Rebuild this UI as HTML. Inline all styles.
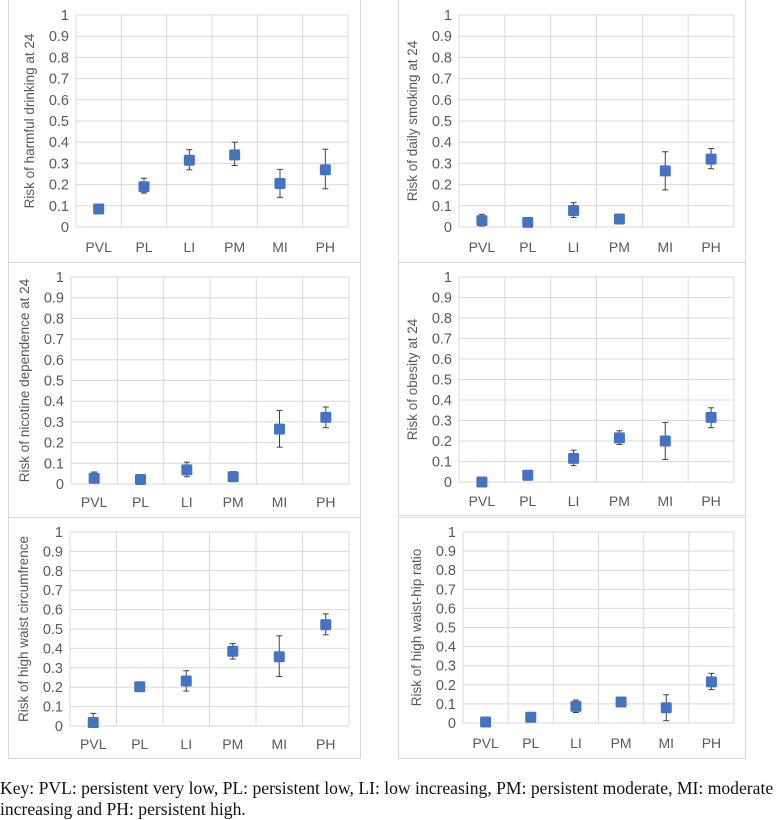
<!DOCTYPE html>
<html><head><meta charset="utf-8">
<style>
body{margin:0;background:#fff;width:778px;height:820px;overflow:hidden;font-family:"Liberation Sans",sans-serif}
#key{position:absolute;left:0;top:778px;font-family:"Liberation Serif",serif;font-size:17.6px;line-height:21px;color:#111;width:790px;white-space:nowrap}
</style></head><body>
<svg id="c" width="778" height="820" style="position:absolute;left:0;top:0"></svg>
<div id="key">Key: PVL: persistent very low, PL: persistent low, LI: low increasing, PM: persistent moderate, MI: moderate<br>increasing and PH: persistent high.</div>
<script>
const categories=["PVL","PL","LI","PM","MI","PH"];
const yTicks=[0,0.1,0.2,0.3,0.4,0.5,0.6,0.7,0.8,0.9,1];
const titles=["Risk of harmful  drinking at 24","Risk of daily smoking at 24","Risk of nicotine dependence  at 24","Risk of obesity at 24","Risk of  high waist circumfrence","Risk of  high waist-hip ratio"];
const vals1=[0.085,0.19,0.315,0.34,0.205,0.27];
const lo1=[0.078,0.16,0.27,0.29,0.14,0.18];
const hi1=[0.092,0.23,0.365,0.40,0.272,0.367];
const vals2=[0.03,0.022,0.078,0.038,0.265,0.32];
const lo2=[0.005,0.015,0.045,0.015,0.175,0.275];
const hi2=[0.06,0.03,0.115,0.06,0.355,0.37];
const vals3=[0.028,0.022,0.068,0.035,0.265,0.322];
const lo3=[0.005,0.015,0.035,0.015,0.178,0.272];
const hi3=[0.058,0.03,0.105,0.06,0.355,0.372];
const vals4=[0.0,0.033,0.115,0.215,0.2,0.315];
const lo4=[0,0.025,0.08,0.183,0.11,0.265];
const hi4=[0.005,0.04,0.155,0.25,0.29,0.362];
const vals5=[0.018,0.202,0.232,0.385,0.357,0.522];
const lo5=[0,0.19,0.18,0.345,0.255,0.47];
const hi5=[0.065,0.215,0.285,0.425,0.465,0.578];
const vals6=[0.005,0.03,0.087,0.11,0.08,0.215];
const lo6=[0,0.022,0.055,0.085,0.012,0.175];
const hi6=[0.012,0.04,0.12,0.133,0.148,0.26];
const series=[[vals1,lo1,hi1],[vals2,lo2,hi2],[vals3,lo3,hi3],[vals4,lo4,hi4],[vals5,lo5,hi5],[vals6,lo6,hi6]];
const layout=[
 {bx:8,by:-1,bw:352,bh:263,l:76,r:348,t:15,b:227,lab:247},
 {bx:398,by:-1,bw:347,bh:263,l:459,r:734,t:15,b:227,lab:247},
 {bx:8,by:262,bw:352,bh:255,l:71,r:349,t:277,b:484,lab:502},
 {bx:398,by:262,bw:347,bh:253,l:459,r:734,t:277,b:482,lab:501},
 {bx:8,by:517,bw:352,bh:241,l:70,r:349,t:532,b:726,lab:744},
 {bx:398,by:517,bw:347,bh:241,l:463,r:734,t:532,b:723,lab:743}];
const svg=document.getElementById('c');
const NS="http://www.w3.org/2000/svg";
function mk(tag,attrs,parent){const e=document.createElementNS(NS,tag);for(const k in attrs)e.setAttribute(k,attrs[k]);parent.appendChild(e);return e;}
layout.forEach((L,i)=>{
 const g=mk('g',{},svg);
 
 
 const border=mk('rect',{x:L.bx+0.5,y:L.by+0.5,width:L.bw,height:L.bh,fill:'#fff',stroke:'#d9d9d9','stroke-width':1},g);
 
 
 const y=v=>L.b-(L.b-L.t)*v;
 const cw=(L.r-L.l)/categories.length;
 const x=j=>L.l+cw*(j+0.5);
 yTicks.forEach(t=>{
  const ln=mk('line',{x1:L.l,x2:L.r,y1:y(t),y2:y(t),stroke:'#d9d9d9','stroke-width':1},g);
  
  
  const tx=mk('text',{x:L.l-7,y:y(t)+5,'text-anchor':'end','font-size':'14.5','fill':'#595959'},g);
  tx.textContent=String(t);
  
  
 });
 for(let j=0;j<=categories.length;j++){
  const ln=mk('line',{x1:L.l+cw*j,x2:L.l+cw*j,y1:L.t,y2:L.b,stroke:'#d9d9d9','stroke-width':1},g);
  
  
 }
 categories.forEach((c,j)=>{
  const tx=mk('text',{x:x(j),y:L.lab+5,'text-anchor':'middle','font-size':'14','fill':'#595959'},g);
  tx.textContent=c;
  
  
 });
 const cy=(L.t+L.b)/2, tx0=L.l-42;
 const tt=mk('text',{x:tx0,y:cy,'text-anchor':'middle','font-size':'13.5','fill':'#595959',transform:`rotate(-90 ${tx0} ${cy})`},g);
 tt.textContent=titles[i];
 
 
 const [v,lo,hi]=series[i];
 v.forEach((val,j)=>{
  const eb=mk('g',{stroke:'#404040','stroke-width':1},g);
  
  
  mk('line',{x1:x(j),x2:x(j),y1:y(lo[j]),y2:y(hi[j])},eb);
  mk('line',{x1:x(j)-3,x2:x(j)+3,y1:y(lo[j]),y2:y(lo[j])},eb);
  mk('line',{x1:x(j)-3,x2:x(j)+3,y1:y(hi[j]),y2:y(hi[j])},eb);
  const m=mk('rect',{x:x(j)-5.5,y:y(val)-5.5,width:11,height:11,rx:1.5,fill:'#4472C4'},g);
  
  
 });
});
</script>
</body></html>
